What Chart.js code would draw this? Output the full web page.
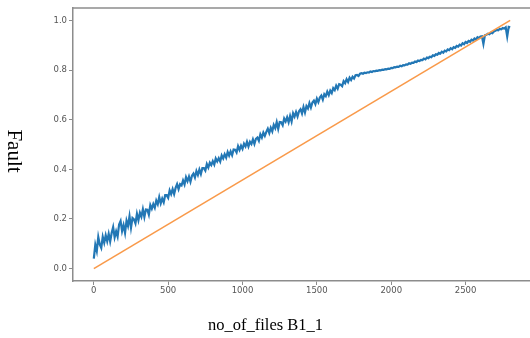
<!DOCTYPE html>
<html><head><meta charset="utf-8">
<script src="https://cdn.jsdelivr.net/npm/chart.js@4/dist/chart.umd.min.js"></script>
<style>
html,body{margin:0;padding:0;background:#fff;overflow:hidden;width:530px;height:338px}
#wrap{position:relative;width:540px;height:338px}
</style>
</head><body><div id="wrap"><canvas id="c" width="540" height="338"></canvas></div>
<script>
const xValues = [
0,10,20,30,40,50,60,70,80,90,
100,110,120,130,140,150,160,170,180,190,
200,210,220,230,240,250,260,270,280,290,
300,310,320,330,340,350,360,370,380,390,
400,410,420,430,440,450,460,470,480,490,
500,510,520,530,540,550,560,570,580,590,
600,610,620,630,640,650,660,670,680,690,
700,710,720,730,740,750,760,770,780,790,
800,810,820,830,840,850,860,870,880,890,
900,910,920,930,940,950,960,970,980,990,
1000,1010,1020,1030,1040,1050,1060,1070,1080,1090,
1100,1110,1120,1130,1140,1150,1160,1170,1180,1190,
1200,1210,1220,1230,1240,1250,1260,1270,1280,1290,
1300,1310,1320,1330,1340,1350,1360,1370,1380,1390,
1400,1410,1420,1430,1440,1450,1460,1470,1480,1490,
1500,1510,1520,1530,1540,1550,1560,1570,1580,1590,
1600,1610,1620,1630,1640,1650,1660,1670,1680,1690,
1700,1710,1720,1730,1740,1750,1760,1770,1780,1790,
1800,1810,1820,1830,1840,1850,1860,1870,1880,1890,
1900,1910,1920,1930,1940,1950,1960,1970,1980,1990,
2000,2010,2020,2030,2040,2050,2060,2070,2080,2090,
2100,2110,2120,2130,2140,2150,2160,2170,2180,2190,
2200,2210,2220,2230,2240,2250,2260,2270,2280,2290,
2300,2310,2320,2330,2340,2350,2360,2370,2380,2390,
2400,2410,2420,2430,2440,2450,2460,2470,2480,2490,
2500,2510,2520,2530,2540,2550,2560,2570,2580,2590,
2600,2610,2620,2630,2640,2650,2660,2670,2680,2690,
2700,2710,2720,2730,2740,2750,2760,2770,2780,2790,
2800];
const faultValues = [
0.040,0.096,0.071,0.127,0.097,0.083,0.128,0.104,0.134,0.110,
0.140,0.109,0.143,0.167,0.126,0.150,0.129,0.178,0.192,0.151,
0.175,0.144,0.193,0.172,0.211,0.165,0.204,0.198,0.182,0.221,
0.195,0.225,0.209,0.239,0.208,0.238,0.237,0.217,0.256,0.241,
0.260,0.245,0.274,0.259,0.288,0.263,0.282,0.267,0.296,0.296,
0.285,0.315,0.300,0.320,0.300,0.325,0.340,0.320,0.340,0.335,
0.355,0.339,0.368,0.352,0.371,0.350,0.374,0.383,0.367,0.393,
0.377,0.399,0.381,0.405,0.405,0.395,0.421,0.407,0.427,0.417,
0.433,0.419,0.444,0.432,0.445,0.431,0.456,0.444,0.461,0.447,
0.470,0.455,0.472,0.457,0.480,0.479,0.468,0.493,0.478,0.495,
0.482,0.503,0.492,0.511,0.492,0.511,0.502,0.521,0.502,0.523,
0.528,0.515,0.541,0.528,0.548,0.535,0.551,0.564,0.546,0.567,
0.553,0.579,0.566,0.590,0.563,0.591,0.590,0.578,0.605,0.593,
0.610,0.590,0.615,0.593,0.626,0.612,0.631,0.613,0.634,0.642,
0.625,0.651,0.629,0.655,0.645,0.667,0.649,0.669,0.677,0.663,
0.685,0.671,0.689,0.697,0.681,0.703,0.695,0.713,0.699,0.717,
0.707,0.727,0.719,0.737,0.725,0.743,0.741,0.735,0.755,0.747,
0.763,0.752,0.769,0.760,0.773,0.766,0.779,0.780,0.776,0.785,
0.787,0.785,0.789,0.788,0.791,0.790,0.794,0.792,0.796,0.795,
0.798,0.797,0.800,0.799,0.802,0.801,0.804,0.803,0.806,0.805,
0.809,0.808,0.812,0.811,0.814,0.813,0.817,0.815,0.820,0.819,
0.823,0.822,0.827,0.825,0.830,0.829,0.834,0.832,0.838,0.836,
0.841,0.840,0.846,0.843,0.850,0.848,0.854,0.852,0.859,0.857,
0.864,0.862,0.869,0.866,0.874,0.870,0.878,0.875,0.883,0.880,
0.888,0.884,0.892,0.889,0.897,0.894,0.902,0.899,0.908,0.904,
0.913,0.909,0.917,0.914,0.922,0.919,0.927,0.923,0.932,0.929,
0.935,0.936,0.905,0.940,0.942,0.946,0.944,0.950,0.948,0.955,
0.958,0.962,0.960,0.966,0.964,0.969,0.967,0.972,0.935,0.974,
0.972];
const refX = [0, 2800];
const refY = [0.0, 1.0];
const xTicks = [0, 500, 1000, 1500, 2000, 2500];
const yTicks = [0.0, 0.2, 0.4, 0.6, 0.8, 1.0];
const xTitle = 'no_of_files B1_1';
const yTitle = 'Fault';

const spine = '#8c8c8c';
const framePlugin = {
  id: 'frame',
  afterDraw(chart) {
    const {ctx, chartArea: a} = chart;
    ctx.save();
    ctx.strokeStyle = spine;
    ctx.lineWidth = 1.5;
    ctx.beginPath();
    ctx.moveTo(a.left, a.top);
    ctx.lineTo(a.right, a.top);
    ctx.stroke();
    ctx.restore();
  }
};
const titlesPlugin = {
  id: 'titles',
  afterDraw(chart) {
    const ctx = chart.ctx;
    ctx.save();
    ctx.fillStyle = '#000';
    ctx.font = '16.5px "Liberation Serif"';
    ctx.textAlign = 'left';
    ctx.textBaseline = 'alphabetic';
    ctx.fillText(xTitle, 208, 330);
    ctx.translate(8, 151);
    ctx.rotate(Math.PI / 2);
    ctx.font = '21px "Liberation Serif"';
    ctx.textAlign = 'center';
    ctx.fillText(yTitle, 0, 0);
    ctx.restore();
  }
};

new Chart(document.getElementById('c'), {
  type: 'line',
  data: {
    datasets: [
      {label: 'reference', data: refX.map((x, i) => ({x, y: refY[i]})), borderColor: '#f99a4a', borderWidth: 1.6, pointRadius: 0, order: 0, tension: 0},
      {label: 'fault', data: xValues.map((x, i) => ({x, y: faultValues[i]})), borderColor: '#2277b5', borderWidth: 2.2, pointRadius: 0, order: 1, tension: 0}
    ]
  },
  options: {
    responsive: false, animation: false, devicePixelRatio: 1,
    layout: {padding: {left: 0, top: 8, right: 9, bottom: 2}},
    plugins: {legend: {display: false}, tooltip: {enabled: false}},
    scales: {
      x: {
        type: 'linear', min: -140, max: 2940,
        afterBuildTicks: s => { s.ticks = xTicks.map(v => ({value: v})); },
        afterFit: s => { s.height = 55; },
        grid: {drawOnChartArea: false, drawTicks: true, tickLength: 4, color: spine, lineWidth: 1},
        border: {color: spine, width: 1.5},
        ticks: {font: {family: 'DejaVu Sans', size: 8.5}, color: '#555', padding: 1, maxRotation: 0, autoSkip: false, callback: v => String(v)}
      },
      y: {
        type: 'linear', min: -0.05, max: 1.05,
        afterBuildTicks: s => { s.ticks = yTicks.map(v => ({value: v})); },
        afterFit: s => { s.width = 73; },
        grid: {drawOnChartArea: false, drawTicks: true, tickLength: 4, color: spine, lineWidth: 1},
        border: {color: spine, width: 1.5},
        ticks: {font: {family: 'DejaVu Sans', size: 8.5}, color: '#555', padding: 2, autoSkip: false, callback: v => Number(v).toFixed(1)}
      }
    }
  },
  plugins: [framePlugin, titlesPlugin]
});
</script>
</body></html>
